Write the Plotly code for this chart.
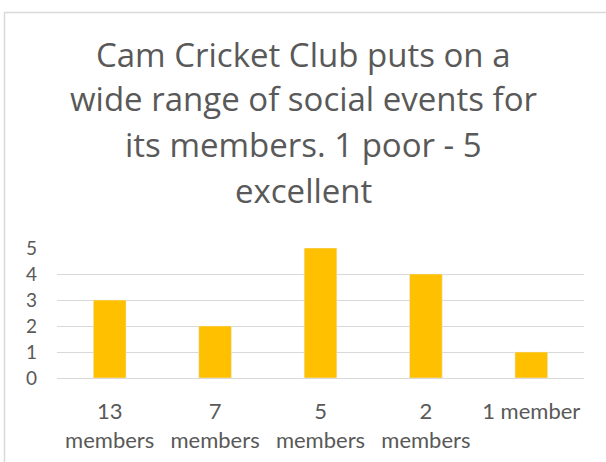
import plotly.graph_objects as go

categories = ["13<br>members", "7<br>members", "5<br>members", "2<br>members", "1 member"]
values = [3, 2, 5, 4, 1]
title_lines = ["Cam Cricket Club puts on a", "wide range of social events for",
               "its members. 1 poor - 5", "excellent"]
y_ticks = [0, 1, 2, 3, 4, 5]

W, H = 606, 462
L, T = 57, 248
R = W - 584
B = H - 378
ph = H - T - B
pw = W - L - R

def py(p):
    return (H - B - p) / ph

def px(p):
    return (p - L) / pw

fig = go.Figure(go.Bar(x=categories, y=values, marker_color="#FFC000", width=0.31))

gray = "#595959"

title_centers = [54, 98, 144, 190]
for txt, yc in zip(title_lines, title_centers):
    fig.add_annotation(text=txt, x=px(303), y=py(yc), xref="paper", yref="paper",
                       xanchor="center", yanchor="middle", showarrow=False,
                       font=dict(family="Open Sans", size=33, color=gray))

fig.add_shape(type="rect", xref="paper", yref="paper",
              x0=px(4.5), x1=px(640), y0=py(500), y1=py(12.5),
              line=dict(color="#D9D9D9", width=1.5), fillcolor="rgba(0,0,0,0)", layer="below")

fig.update_layout(
    width=W, height=H, margin=dict(l=L, r=R, t=T, b=B, autoexpand=False),
    paper_bgcolor="white", plot_bgcolor="white", showlegend=False,
    font=dict(family="Lato", color=gray, size=18),
)
fig.update_xaxes(showgrid=False, showline=False, ticks="", tickfont=dict(size=22, color=gray),
                 ticklabelstandoff=18, automargin=False)
fig.update_yaxes(range=[0, 5], tickvals=y_ticks, showgrid=True, gridcolor="#D9D9D9", gridwidth=1,
                 zeroline=True, zerolinecolor="#D9D9D9", zerolinewidth=1, showline=False,
                 tickfont=dict(size=19, color=gray), ticklabelstandoff=19, automargin=False)

fig.write_html("out.html", config={"displayModeBar": False},
               post_script="document.body.style.margin='0';document.body.style.overflow='hidden';")
